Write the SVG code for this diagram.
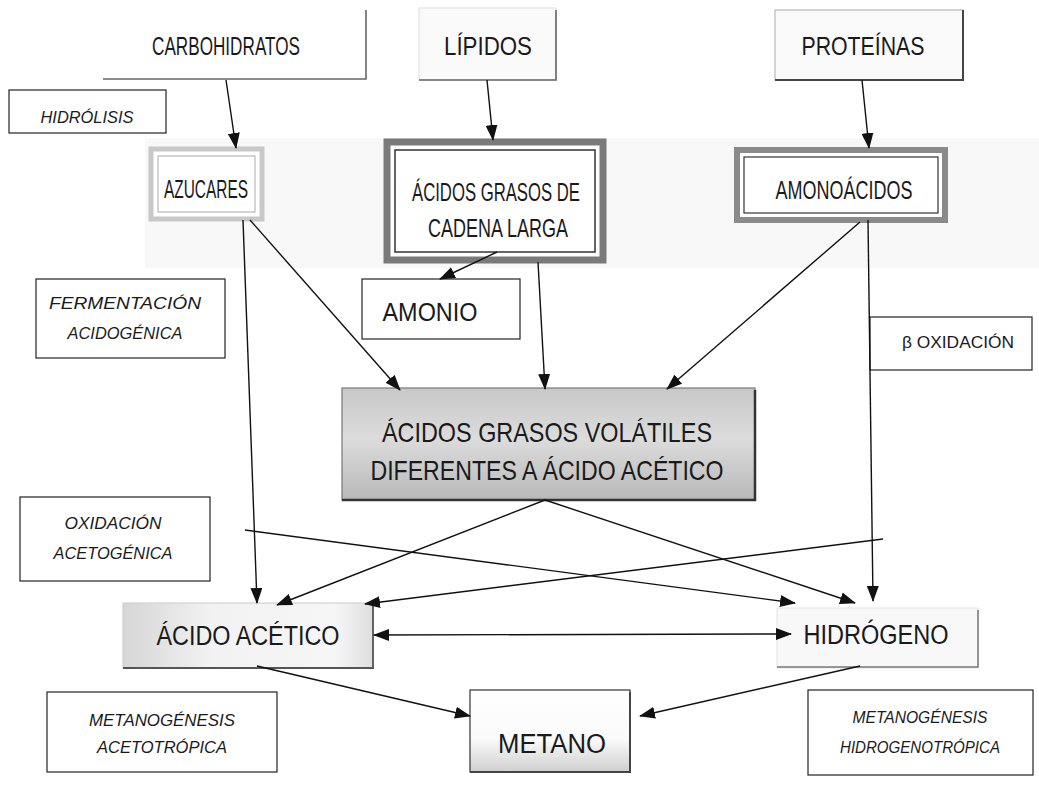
<svg xmlns="http://www.w3.org/2000/svg" width="1039" height="786" viewBox="0 0 1039 786">
<defs>
<style>
.t{font-family:"Liberation Sans",Arial,sans-serif;font-size:25px;fill:#1a1a1a;text-anchor:middle}
.i{font-family:"Liberation Sans",Arial,sans-serif;font-size:16px;font-style:italic;fill:#1a1a1a;text-anchor:middle}
.b{fill:#fff;stroke:#222;stroke-width:1.2}
.c{fill:none;stroke:#111;stroke-width:1.4;marker-end:url(#ah)}
</style>
<marker id="ah" viewBox="0 0 16 12" refX="15" refY="6" markerWidth="16" markerHeight="12" markerUnits="userSpaceOnUse" orient="auto-start-reverse">
<path d="M0,0 L16,6 L0,12 z" fill="#111"/>
</marker>
<linearGradient id="gc" x1="0" y1="0" x2="0" y2="1">
<stop offset="0" stop-color="#c8c8c8"/>
<stop offset="0.45" stop-color="#dcdcdc"/>
<stop offset="1" stop-color="#b8b8b8"/>
</linearGradient>
<linearGradient id="ga" x1="0" y1="0" x2="1" y2="0">
<stop offset="0" stop-color="#d6d6d6"/>
<stop offset="0.35" stop-color="#f2f2f2"/>
<stop offset="0.85" stop-color="#f6f6f6"/>
<stop offset="1" stop-color="#dedede"/>
</linearGradient>
<linearGradient id="gm" x1="0" y1="0" x2="0" y2="1">
<stop offset="0" stop-color="#fff"/>
<stop offset="0.6" stop-color="#fafafa"/>
<stop offset="1" stop-color="#cfcfcf"/>
</linearGradient>
</defs>
<rect width="1039" height="786" fill="#fff"/>
<rect x="145" y="138" width="894" height="130" fill="#f8f8f8"/>

<g id="carbohidratos">
<rect x="103" y="8" width="263" height="71" fill="#fff"/>
<path d="M103,79 H366 V10" fill="none" stroke="#666" stroke-width="1.6"/>
<text class="t" x="226" y="55" textLength="148" lengthAdjust="spacingAndGlyphs">CARBOHIDRATOS</text>
</g>
<g id="lipidos">
<rect x="419" y="8" width="137" height="72" fill="#fafafa" stroke="#ddd"/>
<path d="M419,80 H556 V10" fill="none" stroke="#666" stroke-width="1.6"/>
<text class="t" x="488" y="55" textLength="88" lengthAdjust="spacingAndGlyphs">LÍPIDOS</text>
</g>
<g id="proteinas">
<rect x="775" y="10" width="188" height="70" fill="#fafafa" stroke="#aaa"/>
<path d="M775,80 H963 V10" fill="none" stroke="#444" stroke-width="2"/>
<text class="t" x="863" y="55" textLength="123" lengthAdjust="spacingAndGlyphs">PROTEÍNAS</text>
</g>
<g id="hidrolisis">
<rect class="b" x="9" y="90" width="157" height="43"/>
<text class="i" x="87" y="123" textLength="93" lengthAdjust="spacingAndGlyphs">HIDRÓLISIS</text>
</g>
<g id="azucares">
<rect x="151" y="149" width="111" height="70" fill="#fff" stroke="#c8c8c8" stroke-width="5"/>
<rect x="158" y="156" width="97" height="56" fill="#fff" stroke="#aaa" stroke-width="1"/>
<text class="t" x="206" y="198" textLength="84" lengthAdjust="spacingAndGlyphs">AZUCARES</text>
</g>
<g id="acidos-grasos-cadena-larga">
<rect x="387" y="142" width="216" height="118" fill="#fff" stroke="#7a7a7a" stroke-width="7"/>
<rect x="395" y="150" width="200" height="102" fill="#fff" stroke="#333" stroke-width="1.5"/>
<text class="t" x="496" y="201" textLength="168" lengthAdjust="spacingAndGlyphs">ÁCIDOS GRASOS DE</text>
<text class="t" x="498" y="237" textLength="140" lengthAdjust="spacingAndGlyphs">CADENA LARGA</text>
</g>
<g id="amonoacidos">
<rect x="737" y="150" width="208" height="70" fill="#fff" stroke="#8a8a8a" stroke-width="6"/>
<rect x="744" y="157" width="194" height="56" fill="#fff" stroke="#333" stroke-width="1.2"/>
<text class="t" x="844" y="199" textLength="137" lengthAdjust="spacingAndGlyphs">AMONOÁCIDOS</text>
</g>
<g id="fermentacion">
<rect class="b" x="36" y="279" width="189" height="79"/>
<text class="i" x="125" y="309" textLength="152" lengthAdjust="spacingAndGlyphs">FERMENTACIÓN</text>
<text class="i" x="125" y="339" textLength="115" lengthAdjust="spacingAndGlyphs">ACIDOGÉNICA</text>
</g>
<g id="amonio">
<rect class="b" x="362" y="279" width="158" height="60"/>
<text class="t" x="430" y="321" textLength="95" lengthAdjust="spacingAndGlyphs" style="font-size:26px">AMONIO</text>
</g>
<g id="beta-oxidacion">
<rect class="b" x="870" y="317" width="162" height="53"/>
<text x="958" y="348" textLength="112" lengthAdjust="spacingAndGlyphs" style="font-family:'Liberation Sans',Arial,sans-serif;font-size:16px;fill:#1a1a1a;text-anchor:middle">β OXIDACIÓN</text>
</g>
<g id="acidos-grasos-volatiles">
<rect x="342" y="388" width="413" height="112" fill="url(#gc)" stroke="#777" stroke-width="1.2"/>
<path d="M342,500 H755 V390" fill="none" stroke="#333" stroke-width="2.5"/>
<text class="t" x="547" y="442" textLength="330" lengthAdjust="spacingAndGlyphs" style="font-size:28px">ÁCIDOS GRASOS VOLÁTILES</text>
<text class="t" x="547" y="480" textLength="353" lengthAdjust="spacingAndGlyphs" style="font-size:28px">DIFERENTES A ÁCIDO ACÉTICO</text>
</g>
<g id="oxidacion-acetogenica">
<rect class="b" x="20" y="497" width="190" height="84"/>
<text class="i" x="113" y="529" textLength="97" lengthAdjust="spacingAndGlyphs">OXIDACIÓN</text>
<text class="i" x="113" y="559" textLength="119" lengthAdjust="spacingAndGlyphs">ACETOGÉNICA</text>
</g>
<g id="acido-acetico">
<rect x="123" y="603" width="250" height="65" fill="url(#ga)" stroke="#ccc" stroke-width="1"/>
<path d="M123,668 H373 V605" fill="none" stroke="#555" stroke-width="1.8"/>
<text class="t" x="248" y="645" textLength="183" lengthAdjust="spacingAndGlyphs" style="font-size:27px">ÁCIDO ACÉTICO</text>
</g>
<g id="hidrogeno">
<rect x="777" y="608" width="201" height="60" fill="#f8f8f8" stroke="#e4e4e4" stroke-width="1"/>
<path d="M777,667 H978 V610" fill="none" stroke="#777" stroke-width="1.5"/>
<text class="t" x="876" y="644" textLength="145" lengthAdjust="spacingAndGlyphs" style="font-size:27px">HIDRÓGENO</text>
</g>
<g id="metano">
<rect x="470" y="690" width="160" height="82" fill="url(#gm)" stroke="#333" stroke-width="1.2"/>
<path d="M470,772 H630 V692" fill="none" stroke="#444" stroke-width="2"/>
<text class="t" x="552" y="753" textLength="108" lengthAdjust="spacingAndGlyphs" style="font-size:27px">METANO</text>
</g>
<g id="metanogenesis-acetotropica">
<rect class="b" x="47" y="692" width="230" height="80"/>
<text class="i" x="162" y="726" textLength="146" lengthAdjust="spacingAndGlyphs">METANOGÉNESIS</text>
<text class="i" x="162" y="753" textLength="130" lengthAdjust="spacingAndGlyphs">ACETOTRÓPICA</text>
</g>
<g id="metanogenesis-hidrogenotropica">
<rect class="b" x="808" y="690" width="225" height="85"/>
<text class="i" x="920" y="723" textLength="135" lengthAdjust="spacingAndGlyphs">METANOGÉNESIS</text>
<text class="i" x="920" y="753" textLength="160" lengthAdjust="spacingAndGlyphs">HIDROGENOTRÓPICA</text>
</g>

<g id="connectors">
<path class="c" d="M226,80 L236,148"/>
<path class="c" d="M487,80 L493,140"/>
<path class="c" d="M862,80 L869,148"/>
<path class="c" d="M497,252 L440,279"/>
<path class="c" d="M250,220 L400,390"/>
<path class="c" d="M538,262 L545,389"/>
<path class="c" d="M860,222 L667,389"/>
<path class="c" d="M243,220 L257,603"/>
<path class="c" d="M868,220 L873,601"/>
<path class="c" d="M545,500 L277,605"/>
<path class="c" d="M545,500 L855,603"/>
<path class="c" d="M245,530 L795,603"/>
<path class="c" d="M883,539 L365,604"/>
<path class="c" d="M374,635 L791,634" style="marker-start:url(#ah)"/>
<path class="c" d="M257,666 L470,716"/>
<path class="c" d="M860,666 L640,716"/>
</g>
</svg>
